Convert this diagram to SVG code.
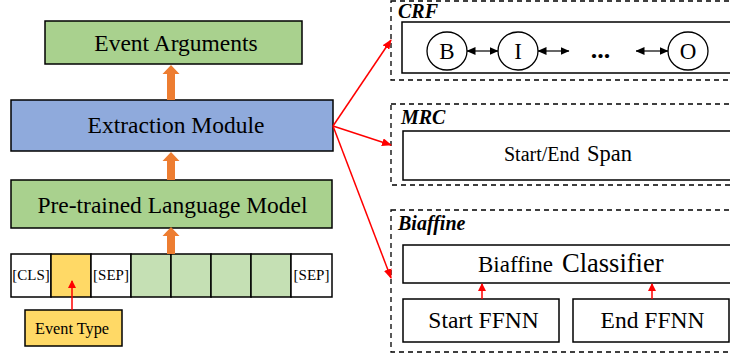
<svg xmlns="http://www.w3.org/2000/svg" width="730" height="360" viewBox="0 0 730 360" font-family="'Liberation Serif', 'Times New Roman', serif">
<defs>
<style>
.box{stroke:#000;stroke-width:1.5}
.wb{fill:#fff;stroke:#000;stroke-width:1.5}
.dash{fill:none;stroke:#000;stroke-width:1.3;stroke-dasharray:5,4}
.red{stroke:#ff0000;stroke-width:1.5;fill:none}
.lbl{font-weight:bold;font-style:italic;font-size:20px}
.org{fill:#ed7d31}
</style>
<marker id="rh" markerWidth="10" markerHeight="8" refX="9" refY="4" orient="auto" markerUnits="userSpaceOnUse"><path d="M0,0 L10,4 L0,8 z" fill="#ff0000"/></marker>
<marker id="rh2" markerWidth="8" markerHeight="8" refX="7" refY="4" orient="auto" markerUnits="userSpaceOnUse"><path d="M0,0 L8,4 L0,8 z" fill="#ff0000"/></marker>
<marker id="bh" markerWidth="9" markerHeight="8" refX="8.5" refY="4" orient="auto-start-reverse" markerUnits="userSpaceOnUse"><path d="M0,0 L9,4 L0,8 z" fill="#000"/></marker>
</defs>
<g id="event-arguments"><rect class="box" x="45" y="21" width="257" height="43" fill="#a9d18e"/><text x="176" y="51" font-size="23.5" text-anchor="middle">Event Arguments</text></g>
<g id="extraction-module"><rect class="box" x="11" y="100" width="322" height="51" fill="#8faadc"/><text x="176" y="133" font-size="23.5" text-anchor="middle">Extraction Module</text></g>
<g id="plm"><rect class="box" x="11" y="180" width="321" height="48" fill="#a9d18e"/><text x="172.5" y="213" font-size="23.5" text-anchor="middle">Pre-trained Language Model</text></g>
<g id="tokens">
<rect class="wb" x="11" y="254" width="40" height="43"/>
<rect class="box" x="51" y="254" width="40" height="43" fill="#ffd966"/>
<rect class="wb" x="91" y="254" width="40" height="43"/>
<rect class="box" x="131" y="254" width="40" height="43" fill="#c5e0b4"/>
<rect class="box" x="171" y="254" width="40" height="43" fill="#c5e0b4"/>
<rect class="box" x="211" y="254" width="40" height="43" fill="#c5e0b4"/>
<rect class="box" x="251" y="254" width="40" height="43" fill="#c5e0b4"/>
<rect class="wb" x="291" y="254" width="41" height="43"/>
<text x="31" y="280" font-size="15" text-anchor="middle">[CLS]</text>
<text x="111" y="280" font-size="15" text-anchor="middle">[SEP]</text>
<text x="311.5" y="280" font-size="15" text-anchor="middle">[SEP]</text>
</g>
<g id="event-type"><rect class="box" x="25" y="310" width="97" height="36" fill="#ffd966"/><text x="72" y="334" font-size="16.3" text-anchor="middle">Event Type</text></g>
<g id="crf">
<rect class="dash" x="391" y="1" width="345" height="79"/>
<text class="lbl" x="398" y="18">CRF</text>
<rect class="wb" x="402" y="22" width="335" height="51"/>
<ellipse cx="447" cy="51" rx="20" ry="19" fill="#fff" stroke="#000" stroke-width="1.3"/><text x="447" y="59" font-size="23" text-anchor="middle">B</text>
<ellipse cx="518" cy="51" rx="20" ry="19" fill="#fff" stroke="#000" stroke-width="1.3"/><text x="518" y="59" font-size="23" text-anchor="middle">I</text>
<ellipse cx="688" cy="51" rx="20" ry="19" fill="#fff" stroke="#000" stroke-width="1.3"/><text x="688" y="59" font-size="23" text-anchor="middle">O</text>
<text x="600.5" y="58" font-size="26" font-weight="bold" text-anchor="middle">...</text>
<line x1="467" y1="51" x2="498" y2="51" stroke="#000" stroke-width="1.2" marker-start="url(#bh)" marker-end="url(#bh)"/>
<line x1="538" y1="51" x2="569" y2="51" stroke="#000" stroke-width="1.2" marker-start="url(#bh)" marker-end="url(#bh)"/>
<line x1="636" y1="51" x2="668" y2="51" stroke="#000" stroke-width="1.2" marker-start="url(#bh)" marker-end="url(#bh)"/>
</g>
<g id="mrc">
<rect class="dash" x="391" y="104" width="345" height="81"/>
<text class="lbl" x="401" y="124">MRC</text>
<rect class="wb" x="403" y="131" width="334" height="49"/>
<text x="504" y="161" font-size="20">Start/End</text>
<text x="587" y="161" font-size="22.5">Span</text>
</g>
<g id="biaffine">
<rect class="dash" x="391" y="210" width="345" height="142"/>
<text class="lbl" x="398" y="230">Biaffine</text>
<rect class="wb" x="403" y="245" width="334" height="38"/>
<text x="478" y="272" font-size="23">Biaffine</text>
<text x="562" y="272" font-size="26.5">Classifier</text>
<rect class="wb" x="403" y="299" width="156" height="43"/>
<text x="483.5" y="328" font-size="23.5" text-anchor="middle">Start FFNN</text>
<rect class="wb" x="573" y="299" width="156" height="43"/>
<text x="652.5" y="328" font-size="23.5" text-anchor="middle">End FFNN</text>
</g>
<g id="connectors">
<path class="org" d="M167,100 L167,74 L162.5,74 L171,65 L179.5,74 L175,74 L175,100 z"/>
<path class="org" d="M167,180 L167,161 L162.5,161 L171,152 L179.5,161 L175,161 L175,180 z"/>
<path class="org" d="M167,254 L167,236 L162.5,236 L171,227 L179.5,236 L175,236 L175,254 z"/>
<line class="red" x1="72" y1="310" x2="72" y2="281" marker-end="url(#rh2)"/>
<line class="red" x1="333" y1="126" x2="391" y2="40" marker-end="url(#rh)"/>
<line class="red" x1="333" y1="126" x2="391" y2="145" marker-end="url(#rh)"/>
<line class="red" x1="333" y1="126" x2="391" y2="278" marker-end="url(#rh)"/>
<line class="red" x1="482" y1="299" x2="482" y2="284" stroke-width="2" marker-end="url(#rh2)"/>
<line class="red" x1="652" y1="299" x2="652" y2="284" stroke-width="2" marker-end="url(#rh2)"/>
</g>
</svg>
